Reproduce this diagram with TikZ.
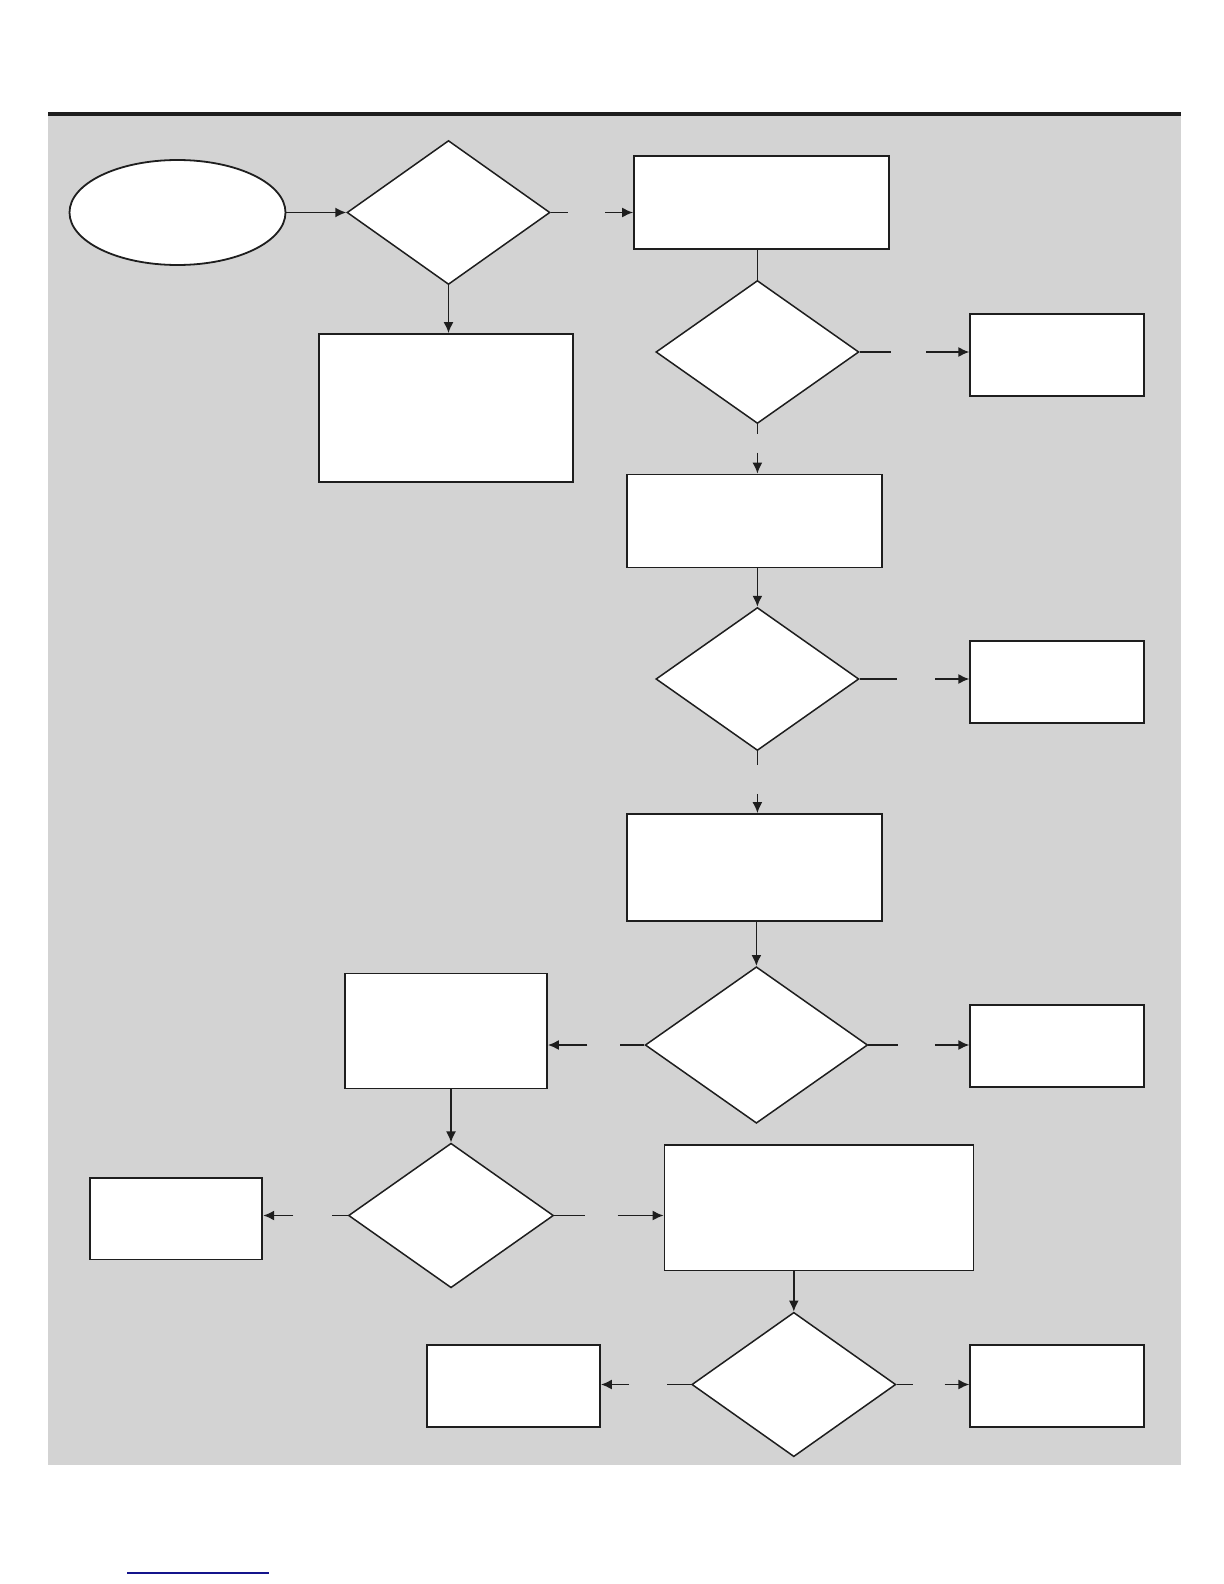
\documentclass[tikz,border=0pt]{standalone}
\usetikzlibrary{shapes.geometric,arrows.meta,calc}
\definecolor{bggrey}{RGB}{211,211,211}
\definecolor{barblack}{RGB}{30,30,30}
\definecolor{linkblue}{RGB}{20,20,140}
\begin{document}
\begin{tikzpicture}[x=0.5pt,y=-0.5pt,
  ln/.style={draw=barblack,line width=0.8pt},
  arr/.style={ln,-{Latex[length=5.5pt,width=5pt]}},
  boxnode/.style={draw=barblack,fill=white,line width=0.9pt,inner sep=0pt,rectangle},
  decnode/.style={draw=barblack,fill=white,line width=0.75pt,inner sep=0pt,diamond},
  startnode/.style={draw=barblack,fill=white,line width=0.9pt,inner sep=0pt,ellipse}]
\useasboundingbox (0,0) rectangle (1224,1584);
\fill[bggrey] (48,116.5) rectangle (1181,1465);
\fill[barblack] (48,112) rectangle (1181,116.5);
% nodes
\node[startnode,minimum width=108pt,minimum height=52.5pt] (E) at (177.5,212.5) {};
\node[decnode,minimum width=101.5pt,minimum height=72pt] (D1) at (448.5,212.5) {};
\node[boxnode,minimum width=127.5pt,minimum height=46.5pt] (B1) at (761.5,202.5) {};
\node[boxnode,minimum width=127pt,minimum height=74pt] (B2) at (446,408) {};
\node[decnode,minimum width=101.5pt,minimum height=71.5pt] (D2) at (757.4,352) {};
\node[boxnode,minimum width=86.75pt,minimum height=41pt] (B3) at (1057,355) {};
\node[boxnode,minimum width=127.5pt,minimum height=46.5pt] (B4) at (754.4,521) {};
\node[decnode,minimum width=101.5pt,minimum height=71.5pt] (D3) at (757.4,679) {};
\node[boxnode,minimum width=86.75pt,minimum height=41pt] (B5) at (1057,682) {};
\node[boxnode,minimum width=127.5pt,minimum height=53.5pt] (B6) at (754.4,867.5) {};
\node[decnode,minimum width=111.25pt,minimum height=78.25pt] (D4) at (756.4,1045) {};
\node[boxnode,minimum width=86.75pt,minimum height=41pt] (B7) at (1057,1046) {};
\node[boxnode,minimum width=101pt,minimum height=57.5pt] (B8) at (446,1031) {};
\node[decnode,minimum width=102.5pt,minimum height=72.3pt] (D5) at (451,1215.5) {};
\node[boxnode,minimum width=86.3pt,minimum height=40.9pt] (B9) at (176,1218.5) {};
\node[boxnode,minimum width=154.5pt,minimum height=62.75pt] (B10) at (819,1207.7) {};
\node[decnode,minimum width=102pt,minimum height=72.2pt] (D6) at (793.8,1384.5) {};
\node[boxnode,minimum width=86.5pt,minimum height=41pt] (B11) at (513.5,1386) {};
\node[boxnode,minimum width=86.75pt,minimum height=41pt] (B12) at (1057,1386) {};
% connectors
\draw[arr] (E.east) -- (D1.west);
\draw[ln] (D1.east) -- ++(17.6,0);
\draw[arr] ($(D1.east)+(54.6,0)$) -- (D1.east -| B1.west);
\draw[arr] (D1.south) -- (D1.south |- B2.north);
\draw[ln] (D2.north |- B1.south) -- (D2.north);
\draw[ln] (D2.east) -- ++(31.3,0);
\draw[arr] ($(D2.east)+(66.6,0)$) -- (D2.east -| B3.west);
\draw[ln] (D2.south) -- ++(0,10);
\draw[arr] ($(D2.south)+(0,28.4)$) -- (D2.south |- B4.north);
\draw[arr] (D3.north |- B4.south) -- (D3.north);
\draw[ln] (D3.east) -- ++(37.4,0);
\draw[arr] ($(D3.east)+(75.8,0)$) -- (D3.east -| B5.west);
\draw[ln] (D3.south) -- ++(0,14);
\draw[arr] ($(D3.south)+(0,42.5)$) -- (D3.south |- B6.north);
\draw[arr] (D4.north |- B6.south) -- (D4.north);
\draw[ln] (D4.east) -- ++(29.5,0);
\draw[arr] ($(D4.east)+(66.5,0)$) -- (D4.east -| B7.west);
\draw[ln] (D4.west) -- ++(-24.3,0);
\draw[arr] ($(D4.west)+(-57,0)$) -- (D4.west -| B8.east);
\draw[arr] (D5.north |- B8.south) -- (D5.north);
\draw[ln] (D5.west) -- ++(-16,0);
\draw[arr] ($(D5.west)+(-54.3,0)$) -- (D5.west -| B9.east);
\draw[ln] (D5.east) -- ++(30.6,0);
\draw[arr] ($(D5.east)+(63.3,0)$) -- (D5.east -| B10.west);
\draw[arr] (D6.north |- B10.south) -- (D6.north);
\draw[ln] (D6.west) -- ++(-24,0);
\draw[arr] ($(D6.west)+(-62,0)$) -- (D6.west -| B11.east);
\draw[ln] (D6.east) -- ++(16,0);
\draw[arr] ($(D6.east)+(48,0)$) -- (D6.east -| B12.west);
% link underline
\draw[linkblue,line width=0.6pt] (127,1573) -- (269,1573);
\end{tikzpicture}
\end{document}
